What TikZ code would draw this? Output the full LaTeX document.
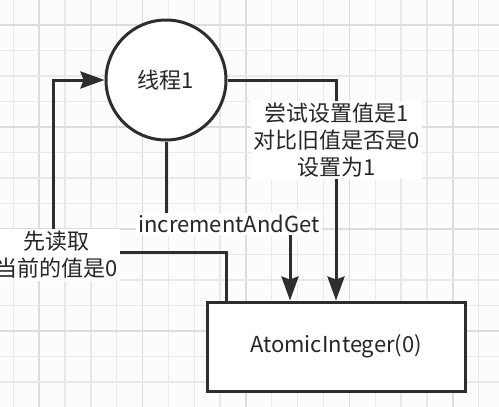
\documentclass[tikz,border=0pt]{standalone}
\usepackage{fontspec}
\setmainfont{Noto Sans CJK SC}
\usetikzlibrary{arrows.meta,calc}

\definecolor{linegray}{HTML}{2E2E2E}
\definecolor{gridminor}{HTML}{E9E9E9}
\definecolor{gridmajor}{HTML}{DCDCDC}

\tikzset{
    flow/.style={line width=3pt, draw=linegray, -{Stealth[length=24pt,width=17pt,inset=3pt]}},
    lbl/.style={fill=white, inner sep=2pt, align=center, font=\fontsize{22}{27}\selectfont, text=black!85},
}

\begin{document}
\begin{tikzpicture}[x=1pt,y=-1pt]
    \useasboundingbox (0,0) rectangle (499,407);
    \fill[white!99!black] (0,0) rectangle (499,407);
    % grid
    \foreach \i in {0,...,18}{
        \pgfmathtruncatemacro{\ismajor}{mod(\i,4)==1}
        \ifnum\ismajor=1
            \draw[gridmajor, line width=1.6pt] ({13.3+25.85*\i},0) -- ({13.3+25.85*\i},407);
        \else
            \draw[gridminor, line width=1.3pt] ({13.3+25.85*\i},0) -- ({13.3+25.85*\i},407);
        \fi
    }
    \foreach \i in {0,...,16}{
        \pgfmathtruncatemacro{\ismajor}{mod(\i,4)==1}
        \ifnum\ismajor=1
            \draw[gridmajor, line width=1.6pt] (0,{-0.5+25.5*\i}) -- (499,{-0.5+25.5*\i});
        \else
            \draw[gridminor, line width=1.3pt] (0,{-0.5+25.5*\i}) -- (499,{-0.5+25.5*\i});
        \fi
    }

    \node[circle, draw=linegray, line width=3pt, fill=white, minimum size=120pt, inner sep=0pt,
          font=\fontsize{22}{24}\selectfont, text=black!85] (thread) at (166,80) {线程1};
    \node[rectangle, draw=linegray, line width=3pt, fill=white, minimum width=258pt, minimum height=89pt,
          inner sep=0pt, font=\fontsize{22}{24}\selectfont, text=black!85] (atomic) at (336,346.5) {AtomicInteger(0)};

    \coordinate (readcorner) at (53,252);
    \coordinate (incturn) at (290,225);

    \draw[flow] ($(atomic.north west)+(21,0)$) |- (readcorner) |- (thread.west);
    \draw[flow] (thread.east) -| (atomic.north);
    \draw[flow] (thread.south) |- (incturn) -- (incturn |- atomic.north);

    \node[lbl] (lblread) at (57,255) {先读取\\当前的值是0};
    \node[lbl] (lblcas) at (336.5,140) {尝试设置值是1\\对比旧值是否是0\\设置为1};
    \node[lbl] (lblinc) at (229,224) {incrementAndGet};
\end{tikzpicture}
\end{document}
